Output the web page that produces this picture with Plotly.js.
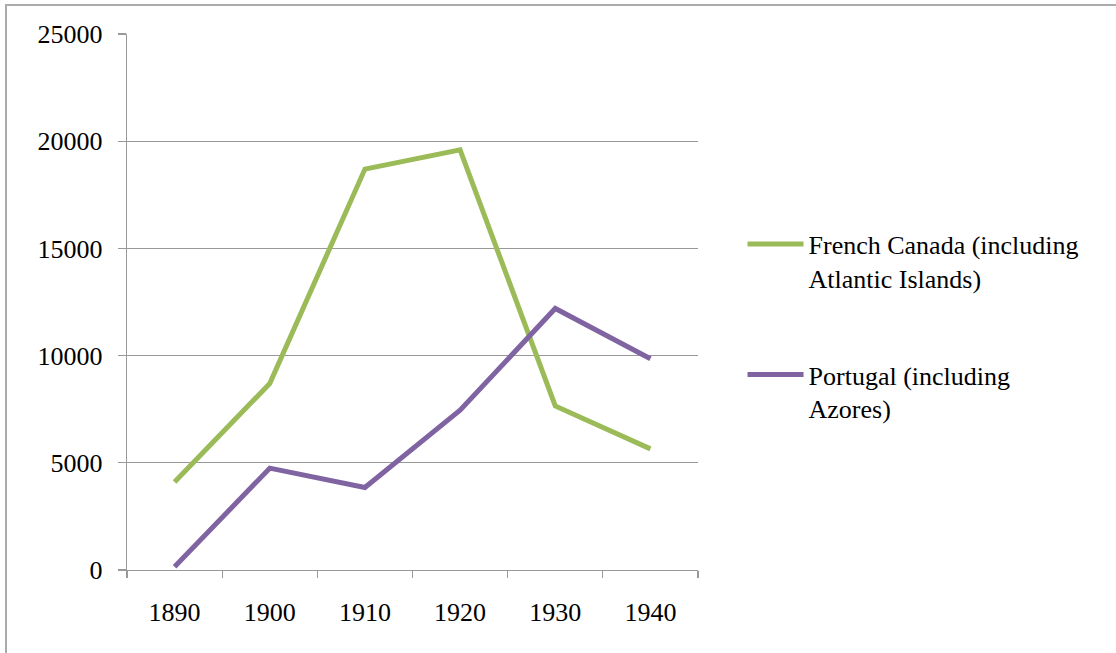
<!DOCTYPE html>
<html>
<head>
<meta charset="utf-8">
<script src="https://cdn.plot.ly/plotly-3.0.1.min.js"></script>
<style>
  html, body { margin: 0; padding: 0; background: #fff; }
  #wrap { position: relative; width: 1116px; height: 653px; }
  #chart { width: 1116px; height: 653px; }
  #frame { position: absolute; left: 5px; top: 4px; width: 1111px; height: 649px;
           border-top: 2px solid #ababab; border-left: 2px solid #ababab;
           box-sizing: border-box; pointer-events: none; }
</style>
</head>
<body>
<div id="wrap">
  <div id="chart"></div>
  <div id="frame"></div>
</div>
<script>
const years = ['1890', '1900', '1910', '1920', '1930', '1940'];
const frenchCanada = [4100, 8700, 18700, 19600, 7650, 5650];
const portugal = [150, 4750, 3850, 7450, 12200, 9850];
const seriesNames = ['French Canada (including<br>Atlantic Islands)', 'Portugal (including<br>Azores)'];
const yTicks = [0, 5000, 10000, 15000, 20000, 25000];

function serif() { return { family: 'Liberation Serif', size: 26, color: '#000' }; }

const traces = [
  { x: years, y: frenchCanada, name: seriesNames[0], type: 'scatter', mode: 'lines',
    line: { color: '#9BBB59', width: 5 }, legendgroup: 'a' },
  { x: years, y: portugal, name: seriesNames[1], type: 'scatter', mode: 'lines',
    line: { color: '#8064A2', width: 5 }, legendgroup: 'b' }
];

const layout = {
  width: 1116, height: 653,
  margin: { l: 127, r: 418, t: 34, b: 83 },
  paper_bgcolor: '#fff', plot_bgcolor: '#fff',
  font: serif(),
  showlegend: true,
  legend: {
    x: 1.078, y: 0.652, xanchor: 'left', yanchor: 'top',
    font: serif(), valign: 'top', itemwidth: 56, tracegroupgap: 60,
    bgcolor: 'rgba(0,0,0,0)'
  },
  xaxis: {
    type: 'category', range: [-0.5, 5.5],
    tickson: 'boundaries', ticks: 'outside', ticklen: 7, tickcolor: '#999', tickwidth: 1.3,
    showline: true, linecolor: '#999', linewidth: 1.3,
    showgrid: false, zeroline: false,
    ticklabelstandoff: 18,
    tickfont: serif()
  },
  yaxis: {
    range: [0, 25000], tickvals: yTicks, ticktext: yTicks.map(String),
    ticks: 'outside', ticklen: 8, tickcolor: '#999', tickwidth: 1.3,
    showline: true, linecolor: '#999', linewidth: 1.3,
    showgrid: true, gridcolor: '#999', gridwidth: 1.3,
    zeroline: false,
    ticklabelstandoff: 10,
    tickfont: serif()
  }
};

Plotly.newPlot('chart', traces, layout, { displayModeBar: false, staticPlot: true });
</script>
</body>
</html>
